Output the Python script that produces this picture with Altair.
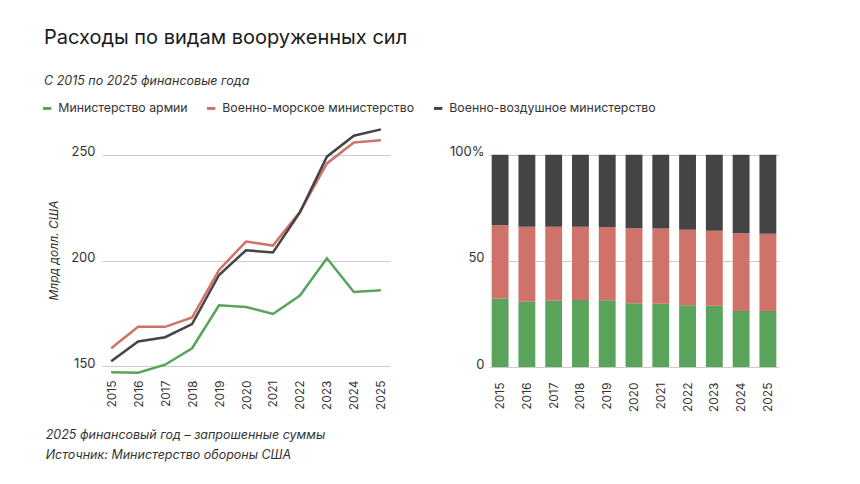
import altair as alt
import pandas as pd

years = [str(y) for y in range(2015, 2026)]
series = ["Министерство армии", "Военно-морское министерство", "Военно-воздушное министерство"]
army = [147.3, 147.0, 150.8, 158.6, 178.9, 178.1, 174.8, 183.5, 201.1, 185.2, 186.0]
navy = [158.6, 168.7, 168.7, 173.1, 195.6, 209.0, 207.1, 223.1, 245.9, 255.8, 256.9]
air = [152.4, 161.8, 163.8, 170.0, 193.2, 204.9, 203.8, 222.8, 249.1, 259.0, 262.0]
colors = ["#5aa35a", "#cf7269", "#444444"]
y_ticks_left = [150, 200, 250]
y_ticks_right = [0, 0.5, 1]

title = "Расходы по видам вооруженных сил"
subtitle = "С 2015 по 2025 финансовые года"
footer = ["2025 финансовый год – запрошенные суммы", "Источник: Министерство обороны США"]
y_title = "Млрд долл. США"

rows = []
for name, vals in zip(series, [army, navy, air]):
    for yr, v in zip(years, vals):
        rows.append({"year": yr, "series": name, "value": v, "order": series.index(name)})
df = pd.DataFrame(rows)

FONT = "Inter"
TXT = "#333333"

color_enc = alt.Color("series:N", sort=series,
                      scale=alt.Scale(domain=series, range=colors),
                      legend=alt.Legend(title=None, orient="none", legendX=-61, legendY=-21,
                                        direction="horizontal", symbolType="stroke",
                                        symbolStrokeWidth=3, symbolSize=70, labelLimit=400,
                                        labelFontSize=12.3, labelColor=TXT, columnPadding=12,
                                        labelOffset=5, labelFont=FONT))

left = alt.Chart(df).mark_line(strokeWidth=2.5).encode(
    x=alt.X("year:O", sort=years, scale=alt.Scale(type="point", padding=0.34),
            axis=alt.Axis(title=None, labelAngle=-90, labelAlign="right", labelBaseline="middle",
                          ticks=False, domain=False, labelFontSize=12, labelColor=TXT,
                          labelPadding=3)),
    y=alt.Y("value:Q", scale=alt.Scale(domain=[145, 265], nice=False, zero=False),
            axis=alt.Axis(values=y_ticks_left, title=y_title, titleFontStyle="italic",
                          titleFontWeight="normal", titleFontSize=12, titleColor=TXT,
                          titlePadding=10, labelFontSize=13, labelColor=TXT,
                          labelBaseline="alphabetic", labelOffset=1, labelPadding=7,
                          ticks=False, domain=False, gridColor="#cccccc")),
    color=color_enc,
).properties(
    width=288, height=254,
    title=alt.TitleParams(footer, orient="bottom", anchor="start", frame="bounds",
                          fontSize=12.5, fontStyle="italic", fontWeight="normal",
                          color=TXT, lineHeight=20, offset=19, font=FONT, dx=-2),
)

right = alt.Chart(df).mark_bar().encode(
    x=alt.X("year:O", sort=years, scale=alt.Scale(paddingInner=0.37, paddingOuter=0.1),
            axis=alt.Axis(title=None, labelAngle=-90, labelAlign="right", labelBaseline="middle",
                          ticks=False, domain=False, labelFontSize=12, labelColor=TXT,
                          labelPadding=5)),
    y=alt.Y("value:Q", stack="normalize",
            scale=alt.Scale(domain=[-0.0465, 1.149], nice=False, zero=False),
            axis=alt.Axis(values=y_ticks_right, title=None, labelFontSize=13, labelColor=TXT,
                          labelExpr="datum.value == 1 ? '100%' : datum.value == 0.5 ? '50' : '0'",
                          labelBaseline="alphabetic", labelOffset=1, labelPadding=5,
                          ticks=False, domain=False, gridColor="#cccccc")),
    color=color_enc,
    order=alt.Order("order:Q"),
).properties(width=290, height=254)

chart = alt.hconcat(left, right, spacing=59).properties(
    title=alt.TitleParams(title, subtitle=subtitle, anchor="start", fontSize=20,
                          fontWeight="normal", color="#1a1a1a", subtitleFontSize=12.5,
                          subtitleFontStyle="italic", subtitleColor=TXT, subtitlePadding=27,
                          offset=15, font=FONT, subtitleFont=FONT, dx=3),
    padding={"left": 33, "top": 19, "right": 10, "bottom": 10},
).configure(font=FONT).configure_view(stroke=None)

chart.save("out.html", embed_options={"renderer": "svg", "actions": False})
